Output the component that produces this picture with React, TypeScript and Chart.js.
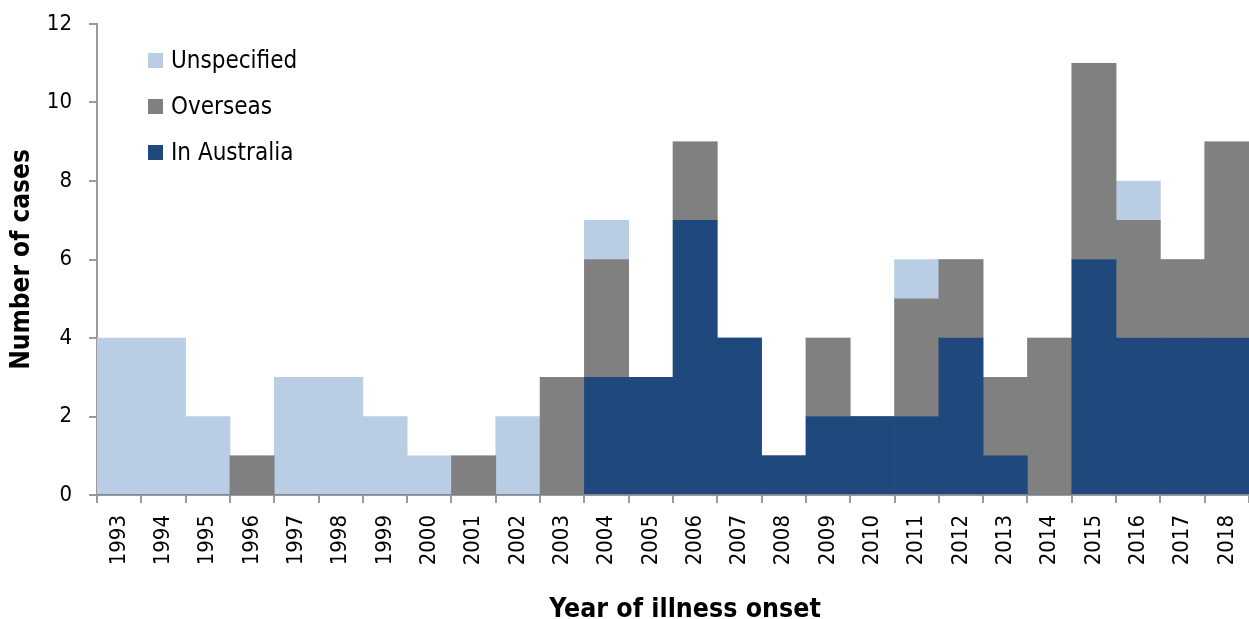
import React, { useEffect, useRef } from "react";
import { Chart, registerables } from "chart.js";

Chart.register(...registerables);

const years = [
  "1993", "1994", "1995", "1996", "1997", "1998", "1999", "2000", "2001",
  "2002", "2003", "2004", "2005", "2006", "2007", "2008", "2009", "2010",
  "2011", "2012", "2013", "2014", "2015", "2016", "2017", "2018",
];
const inAustralia = [0, 0, 0, 0, 0, 0, 0, 0, 0, 0, 0, 3, 3, 7, 4, 1, 2, 2, 2, 4, 1, 0, 6, 4, 4, 4];
const overseas = [0, 0, 0, 1, 0, 0, 0, 0, 1, 0, 3, 3, 0, 2, 0, 0, 2, 0, 3, 2, 2, 4, 5, 3, 2, 5];
const unspecified = [4, 4, 2, 0, 3, 3, 2, 1, 0, 2, 0, 1, 0, 0, 0, 0, 0, 0, 1, 0, 0, 0, 0, 1, 0, 0];
const yTicks = [0, 2, 4, 6, 8, 10, 12];
const xTitle = "Year of illness onset";
const yTitle = "Number of cases";

const FONT = "'DejaVu Sans Condensed', 'Liberation Sans', sans-serif";
const AXIS = "#9a9a9a";

const overlayPlugin = {
  id: "overlay",
  afterDraw(chart: any) {
    const ctx = chart.ctx;
    const items = [...chart.data.datasets].reverse();
    ctx.save();
    ctx.font = `24px ${FONT}`;
    ctx.textBaseline = "middle";
    ctx.textAlign = "left";
    items.forEach((ds: any, i: number) => {
      const y = 61 + i * 46;
      ctx.fillStyle = ds.backgroundColor;
      ctx.fillRect(148, y - 8, 15, 15);
      ctx.fillStyle = "#000";
      ctx.fillText(ds.label, 171, y + 1);
    });
    ctx.font = `bold 26.5px ${FONT}`;
    ctx.textAlign = "center";
    ctx.textBaseline = "alphabetic";
    ctx.fillText(xTitle, 685, 617);
    ctx.restore();
  },
};

export default function App() {
  const ref = useRef<HTMLCanvasElement>(null);
  useEffect(() => {
    document.body.style.margin = "0";
    const chart = new Chart(ref.current!, {
      type: "bar",
      data: {
        labels: years,
        datasets: [
          { label: "In Australia", data: inAustralia, backgroundColor: "#1F497D" },
          { label: "Overseas", data: overseas, backgroundColor: "#808080" },
          { label: "Unspecified", data: unspecified, backgroundColor: "#B9CDE5" },
        ],
      },
      options: {
        animation: false,
        responsive: false,
        layout: { padding: { top: 24, right: 0, left: 0, bottom: 0 } },
        datasets: { bar: { barPercentage: 1, categoryPercentage: 1, borderWidth: 0 } },
        plugins: { legend: { display: false }, tooltip: { enabled: false } },
        scales: {
          x: {
            stacked: true,
            afterFit: (s: any) => { s.height = 124; s.paddingLeft = 0; s.paddingRight = 0; },
            border: { color: AXIS, width: 2 },
            grid: { display: true, drawOnChartArea: false, offset: true, tickLength: 8, color: AXIS, lineWidth: 2 },
            ticks: { color: "#000", font: { family: FONT, size: 22 }, maxRotation: 90, minRotation: 90, padding: 12 },
            title: { display: false },
          },
          y: {
            stacked: true,
            min: 0,
            max: 12,
            afterFit: (s: any) => { s.width = 97; s.paddingTop = 0; s.paddingBottom = 0; },
            afterBuildTicks: (s: any) => { s.ticks = yTicks.map((v) => ({ value: v })); },
            border: { color: AXIS, width: 2 },
            grid: { display: true, drawOnChartArea: false, tickLength: 8, color: AXIS, lineWidth: 2 },
            ticks: { color: "#000", font: { family: FONT, size: 22 }, padding: 17 },
            title: { display: true, text: yTitle, color: "#000", font: { family: FONT, size: 26, weight: "bold" }, padding: { top: 7, bottom: 0 } },
          },
        },
      },
      plugins: [overlayPlugin],
    });
    return () => chart.destroy();
  }, []);
  return <canvas ref={ref} width={1249} height={619} style={{ display: "block" }} />;
}
